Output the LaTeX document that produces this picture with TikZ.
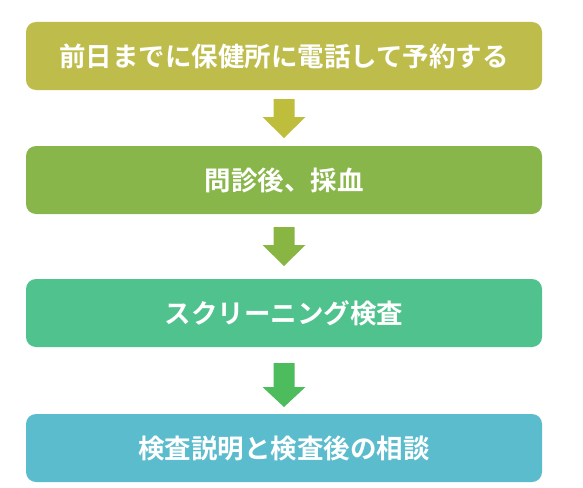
\documentclass[tikz,border=0pt]{standalone}
\usepackage{fontspec}
\setmainfont{Noto Sans CJK JP}[BoldFont={Noto Sans CJK JP Bold}]
\usetikzlibrary{calc}
\definecolor{cA}{RGB}{190,189,76}
\definecolor{cB}{RGB}{137,182,74}
\definecolor{cC}{RGB}{79,194,142}
\definecolor{cD}{RGB}{91,188,206}
\definecolor{aA}{RGB}{190,189,60}
\definecolor{aB}{RGB}{137,182,66}
\definecolor{aC}{RGB}{76,188,92}
\tikzset{
  stepbox/.style={rounded corners=10pt, minimum width=516pt, minimum height=68pt,
    inner sep=0pt, text=white, font=\fontsize{26.5}{30}\selectfont\bfseries}
}
\newcommand{\downarr}[4]{% top y, head start y, tip y, color
  \fill[#4] (273.5pt,-#1pt) -- (294.5pt,-#1pt) -- (294.5pt,-#2pt) -- (305.5pt,-#2pt)
    -- (284pt,-#3pt) -- (262.5pt,-#2pt) -- (273.5pt,-#2pt) -- cycle;}
\begin{document}
\begin{tikzpicture}[x=1pt,y=-1pt]
\useasboundingbox (0,0) rectangle (583,487);
\node[stepbox, fill=cA] (b1) at (284,56) {前日までに保健所に電話して予約する};
\node[stepbox, fill=cB] (b2) at (284,180) {問診後、採血};
\node[stepbox, fill=cC] (b3) at (284,313) {スクリーニング検査};
\node[stepbox, fill=cD] (b4) at (284,448) {検査説明と検査後の相談};
\downarr{99}{117}{138}{aA}
\downarr{227}{245}{266}{aB}
\downarr{363}{387}{407}{aC}
\end{tikzpicture}
\end{document}
